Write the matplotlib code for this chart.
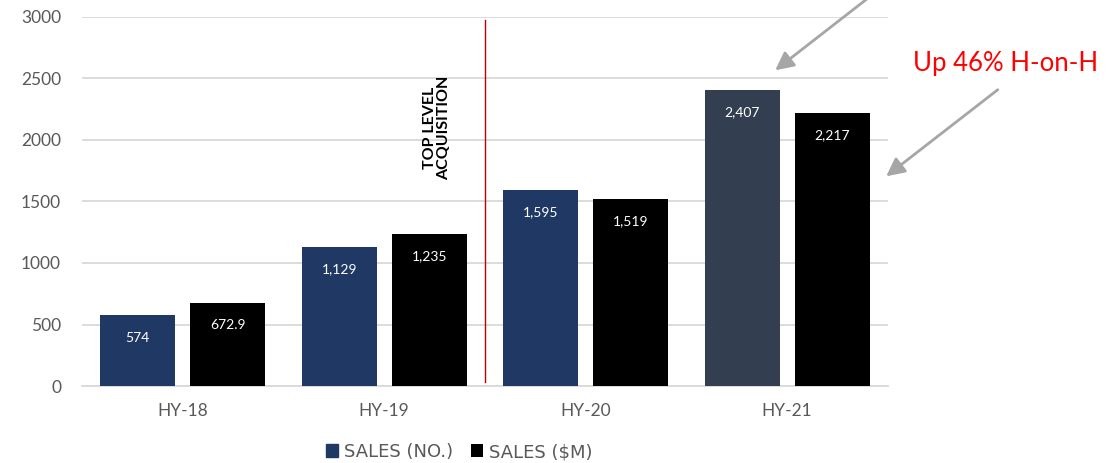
import matplotlib
matplotlib.use("Agg")
import matplotlib.pyplot as plt
import numpy as np

plt.rcParams['font.family'] = ['Lato', 'DejaVu Sans']

categories = ["HY-18", "HY-19", "HY-20", "HY-21"]
sales_no = [574, 1129, 1595, 2407]
sales_m = [672.9, 1235, 1519, 2217]
labels_no = ["574", "1,129", "1,595", "2,407"]
labels_m = ["672.9", "1,235", "1,519", "2,217"]
series_names = ["SALES (NO.)", "SALES ($M)"]
yticks = [0, 500, 1000, 1500, 2000, 2500, 3000]

navy = "#203864"
navy_last = "#333F50"
black = "#000000"
tick_gray = "#595959"

fig = plt.figure(figsize=(11.12, 4.63), dpi=100)
ax = fig.add_axes([0.0737, 0.1663, 0.7248, 0.797])

x = np.arange(len(categories))
w = 0.372
off = 0.223
colors_no = [navy, navy, navy, navy_last]
b1 = ax.bar(x - off, sales_no, w, color=colors_no, zorder=3, label=series_names[0])
b2 = ax.bar(x + off, sales_m, w, color=black, zorder=3, label=series_names[1])

for xi, v, t in zip(x - off, sales_no, labels_no):
    ax.text(xi, v - 180, t, ha="center", va="center", color="white", fontsize=10, zorder=4)
for xi, v, t in zip(x + off, sales_m, labels_m):
    ax.text(xi, v - 180, t, ha="center", va="center", color="white", fontsize=10, zorder=4)

ax.set_xlim(-0.5, 3.5)
ax.set_ylim(0, 3000)
ax.set_yticks(yticks)
ax.set_xticks(x)
ax.set_xticklabels(categories)
ax.tick_params(axis="both", length=0, labelsize=12.5, colors=tick_gray)
ax.tick_params(axis="y", pad=15)
ax.tick_params(axis="x", pad=12)
ax.yaxis.grid(True, color="#D9D9D9", linewidth=1.3, zorder=0)
for s in ["top", "right", "left"]:
    ax.spines[s].set_visible(False)
ax.spines["bottom"].set_color("#D9D9D9")
ax.spines["bottom"].set_linewidth(1.3)

# acquisition divider
ax.plot([1.5, 1.5], [30, 2975], color="#C00000", linewidth=1, zorder=4)
ax.text(1.262, 2098, "TOP LEVEL\nACQUISITION", rotation=90, ha="center", va="center",
        fontsize=11.5, fontweight="bold", color="black", linespacing=1.05)

# growth callout
fig.text(1006, 463 - 64, "Up 46% H-on-H", color="#FF0000", fontsize=18.5,
         ha="center", va="center", transform=None)
arrow_kw = dict(arrowstyle="-|>,head_length=1.1,head_width=0.55", color="#A6A6A6", lw=2)
ax.annotate("", xy=(773, 463 - 72), xytext=(872, 463 + 5),
            xycoords="figure pixels", textcoords="figure pixels", arrowprops=arrow_kw,
            annotation_clip=False)
ax.annotate("", xy=(884, 463 - 178), xytext=(1000, 463 - 88),
            xycoords="figure pixels", textcoords="figure pixels", arrowprops=arrow_kw)

leg = fig.legend(handles=[b1, b2], labels=series_names, loc="center",
                 bbox_to_anchor=(459 / 1112, 1 - 452 / 463), ncol=2, frameon=False,
                 prop={"family": "DejaVu Sans", "size": 13},
                 handlelength=0.7, handleheight=0.7, handletextpad=0.3,
                 columnspacing=1.0)
for t in leg.get_texts():
    t.set_color(tick_gray)
leg.legend_handles[0].set_color(navy)

fig.savefig("out.png", dpi=100)
